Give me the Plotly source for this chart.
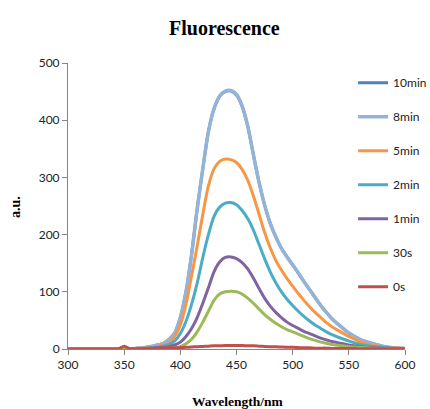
import plotly.graph_objects as go

wavelength = [300, 310, 320, 330, 340, 345, 350, 355, 360, 365, 370, 375, 380, 385, 390, 395,
              400, 405, 410, 415, 420, 425, 430, 435, 440, 445, 450, 455, 460, 465, 470, 475,
              480, 485, 490, 495, 500, 505, 510, 515, 520, 525, 530, 535, 540,
              550, 560, 570, 580, 590, 600]

s_10min = [0, 0, 0, 0, 0, 0.5, 1, 0.5, 1, 2, 3, 5, 7, 10, 17, 28,
           55, 100, 165, 245, 315, 380, 420, 442, 450, 451, 444, 424, 389, 340, 292, 252,
           220, 196, 176, 161, 147, 133, 118, 104, 90, 76, 64, 53, 44,
           28, 17, 10, 5, 2, 1]
s_8min = [0, 0, 0, 0, 0, 0.5, 1, 0.5, 1, 2, 3, 5, 7, 10, 17, 28,
          55, 100, 165, 245, 315, 380, 420, 442, 451, 452, 445, 425, 390, 340, 292, 252,
          220, 196, 176, 161, 147, 133, 118, 104, 90, 76, 64, 53, 44,
          28, 17, 10, 5, 2, 1]
s_5min = [0, 0, 0, 0, 0, 0.5, 1, 0.5, 1, 1.5, 2, 3, 5, 7, 11, 22,
          42, 78, 128, 180, 235, 285, 315, 328, 332, 331, 326, 314, 295, 268, 236, 204,
          177, 155, 138, 123, 110, 97, 85, 74, 64, 55, 46, 39, 33,
          22, 13, 7, 4, 2, 1]
s_2min = [0, 0, 0, 0, 0, 0.5, 1, 0.5, 0.5, 1, 1.5, 2, 3, 5, 8, 14,
          27, 48, 78, 115, 160, 200, 232, 248, 255, 256, 252, 242, 228, 208, 183, 158,
          135, 116, 100, 87, 76, 66, 57, 49, 42, 36, 30, 25, 21,
          14, 8, 5, 3, 1.5, 0.5]
s_1min = [0, 0, 0, 0, 0, 0.5, 1, 0.5, 0, 0.5, 1, 1.5, 2, 3, 4, 7,
          12, 22, 36, 55, 80, 107, 135, 152, 160, 161, 158, 151, 140, 124, 106, 89,
          75, 64, 55, 47, 41, 36, 31, 27, 23, 19, 16, 13, 11,
          7, 4, 2.5, 1.5, 1, 0.5]
s_30s = [0, 0, 0, 0, 0, 0.5, 1, 0.5, 0, 0, 0, 0.5, 0.5, 1, 1, 2,
         4, 9, 17, 30, 47, 66, 85, 96, 100, 101, 100, 96, 89, 80, 70, 60,
         52, 45, 39, 34, 30, 26, 22, 18, 15, 12, 10, 8, 6.5,
         4, 2.5, 1.5, 1, 0.5, 0.3]
s_0s = [0, 0, 0, 0, 0, 0.5, 5, 0.5, 0.5, 0.5, 1, 1, 1.5, 1.5, 2, 2,
        2.5, 3, 3.5, 4, 4.5, 5, 5.5, 5.5, 6, 6, 6, 6, 5.5, 5.5, 5, 4.5,
        4, 4, 3.5, 3, 3, 2.5, 2, 2, 1.5, 1.5, 1.5, 1, 1,
        1, 0.5, 0.5, 0.5, 0.3, 0.3]

series_names = ["10min", "8min", "5min", "2min", "1min", "30s", "0s"]
series_values = [s_10min, s_8min, s_5min, s_2min, s_1min, s_30s, s_0s]
series_colors = ["#4F81BD", "#95B3D7", "#F79646", "#4BACC6", "#8064A2", "#9BBB59", "#C0504D"]
series_widths = [3, 3.5, 3, 3, 3, 3, 3]

x_ticks = [300, 350, 400, 450, 500, 550, 600]
y_ticks = [0, 100, 200, 300, 400, 500]

fig = go.Figure()
for name, vals, col, w in zip(series_names, series_values, series_colors, series_widths):
    fig.add_trace(go.Scatter(
        x=wavelength, y=vals, mode="lines", name=name, legendgroup=name,
        line=dict(color=col, width=w, shape="spline", smoothing=0.8),
    ))

axis_font = dict(family="Lato, Arial, sans-serif", size=12, color="#222222")
serif_bold = "Liberation Serif, Times New Roman, serif"

fig.update_layout(
    width=430, height=409,
    margin=dict(l=68, r=25, t=63, b=60, autoexpand=False),
    paper_bgcolor="white", plot_bgcolor="white",
    showlegend=True,
    legend=dict(
        x=0.846, y=0.982, xanchor="left", yanchor="top",
        font=dict(family="Lato, Arial, sans-serif", size=12, color="#222222"),
        bgcolor="rgba(0,0,0,0)", tracegroupgap=15, itemwidth=30,
    ),
    xaxis=dict(
        range=[300, 600], tickvals=x_ticks, ticktext=[str(v) for v in x_ticks],
        showgrid=False, zeroline=False, showline=True, linecolor="#868686", linewidth=1,
        ticks="outside", ticklen=5, tickcolor="#868686", tickfont=axis_font,
    ),
    yaxis=dict(
        range=[0, 500], tickvals=y_ticks, ticktext=[str(v) for v in y_ticks],
        showgrid=False, zeroline=False, showline=True, linecolor="#868686", linewidth=1,
        ticks="outside", ticklen=5, tickcolor="#868686", tickfont=axis_font,
    ),
    annotations=[
        dict(text="<b>Fluorescence</b>", xref="paper", yref="paper", x=0.463, y=1.123,
             xanchor="center", yanchor="middle", showarrow=False,
             font=dict(family=serif_bold, size=20, color="black")),
        dict(text="<b>Wavelength/nm</b>", xref="paper", yref="paper", x=0.503, y=-0.185,
             xanchor="center", yanchor="middle", showarrow=False,
             font=dict(family=serif_bold, size=13.5, color="black")),
        dict(text="<b>a.u.</b>", xref="paper", yref="paper", x=-0.157, y=0.4965,
             xanchor="center", yanchor="middle", showarrow=False, textangle=-90,
             font=dict(family=serif_bold, size=14, color="black")),
    ],
)

fig.write_html("out.html")
